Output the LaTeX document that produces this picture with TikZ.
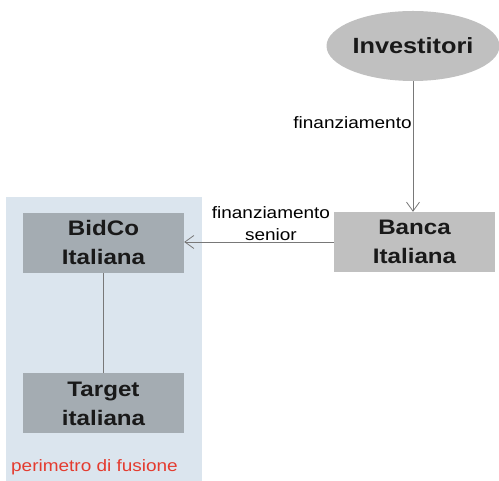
\documentclass[tikz,border=0pt]{standalone}
\usepackage{fontspec}
\setmainfont{Liberation Sans}[FakeStretch=1.15]
\usetikzlibrary{shapes.geometric}
\usetikzlibrary{arrows.meta}
\definecolor{sfondo}{RGB}{219,229,238}
\definecolor{grigioblu}{RGB}{164,172,178}
\definecolor{grigio}{RGB}{192,192,192}
\definecolor{linea}{RGB}{120,120,120}
\definecolor{rosso}{RGB}{228,59,47}

\begin{document}
\begin{tikzpicture}[x=1pt,y=1pt]
			\tikzset{blocco/.style={fill=#1, minimum width=161pt, minimum height=60pt, inner sep=0pt, align=center, text=black!90, font=\bfseries\fontsize{21}{29}\selectfont}}
			\tikzset{etichetta/.style={inner sep=1pt, align=center, font=\fontsize{16.5}{22}\selectfont}}
			\tikzset{freccia/.style={draw=linea, line width=0.8pt, -{Straight Barb[length=9pt,width=13pt]}}}
			\useasboundingbox (0,0) rectangle (499,481);
			\fill[sfondo] (6,0) rectangle (202,284);
			\node[blocco=grigioblu] (bidco) at (103.5,238) {BidCo\\Italiana};
			\node[blocco=grigioblu] (target) at (103.5,77.5) {Target\\italiana};
			\node[blocco=grigio] (banca) at (414.5,239) {Banca\\Italiana};
			\node[blocco=grigio, ellipse, minimum width=173pt, minimum height=70pt, font=\bfseries\fontsize{22}{29}\selectfont] (inv) at (413,435) {Investitori};
			\node[etichetta, anchor=west, text=rosso] (perimetro) at (10,14) {perimetro di fusione};
			\draw[freccia] (inv.south) -- node[etichetta, left, pos=0.32] {finanziamento} (inv.south |- banca.north);
			\draw[freccia] (banca.west) -- node[etichetta, above, pos=0.42] {finanziamento\\senior} (banca.west -| bidco.east);
			\draw[linea, line width=0.8pt] (bidco) -- (target);
		\end{tikzpicture}
\end{document}
